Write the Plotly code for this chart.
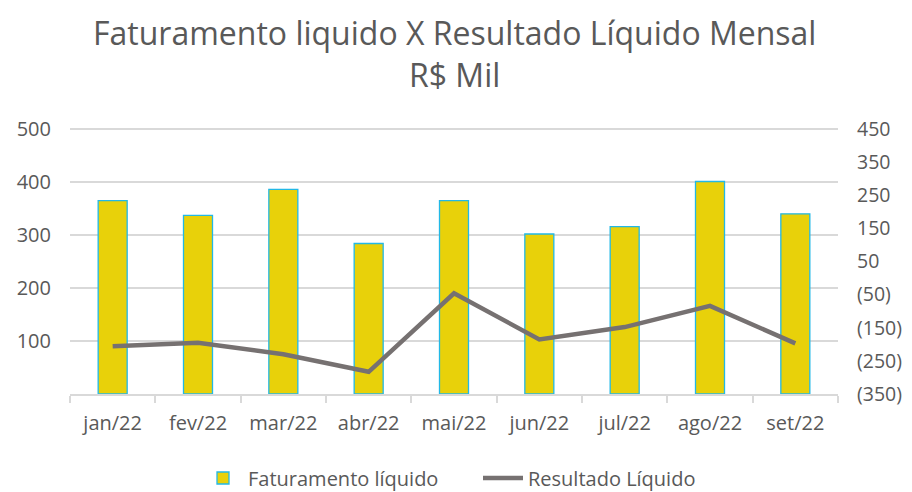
import plotly.graph_objects as go

meses = ["jan/22", "fev/22", "mar/22", "abr/22", "mai/22", "jun/22", "jul/22", "ago/22", "set/22"]
faturamento = [365, 337, 386, 284, 365, 302, 316, 401, 340]
resultado = [-206, -195, -230, -283, -46, -185, -148, -84, -197]

left_ticks = [100, 200, 300, 400, 500]
right_ticks = [-350, -250, -150, -50, 50, 150, 250, 350, 450]
right_labels = ["(350)", "(250)", "(150)", "(50)", "50", "150", "250", "350", "450"]

title_line1 = "Faturamento liquido X Resultado Líquido Mensal"
title_line2 = "R$ Mil"

grey = "#595959"
fnt = "Open Sans"

# layout geometry (figure pixels; page adds 8px body margin)
T, B, L, R = 120, 106, 62, 82
H = 492 - T - B
W = 912 - L - R

fig = go.Figure()
fig.add_trace(go.Bar(
    x=meses, y=faturamento, name="Faturamento líquido",
    marker=dict(color="#E8D10A", line=dict(color="#22B8E6", width=1.3)),
    width=0.34, yaxis="y",
))
fig.add_trace(go.Scatter(
    x=meses, y=resultado, name="Resultado Líquido", mode="lines",
    line=dict(color="#767171", width=4.5), yaxis="y2",
))

fig.update_layout(
    width=912, height=492,
    paper_bgcolor="white", plot_bgcolor="white",
    margin=dict(l=L, r=R, t=T, b=B, autoexpand=False),
    font=dict(family=fnt, color=grey, size=20),
    xaxis=dict(type="category", showgrid=False, showline=True, linecolor="#D9D9D9", linewidth=1.5,
               ticks="outside", tickson="boundaries", ticklen=7, tickcolor="#D9D9D9", tickwidth=1.5,
               tickfont=dict(size=20, color=grey), ticklabelstandoff=10, automargin=False),
    yaxis=dict(range=[0, 502], tickvals=left_ticks, showgrid=True, gridcolor="#D9D9D9", gridwidth=1.5,
               zeroline=False, showline=False, tickfont=dict(size=20, color=grey), ticklabelstandoff=18,
               automargin=False),
    yaxis2=dict(range=[-350, 453.2], tickvals=right_ticks, ticktext=right_labels, overlaying="y",
                side="right", showgrid=False, zeroline=False, showline=False,
                tickfont=dict(size=19.5, color=grey), ticklabelstandoff=18, automargin=False),
    legend=dict(orientation="h", x=(190 - L) / W, xanchor="left", y=-(470 - (T + H)) / H, yanchor="middle",
                font=dict(size=20, color=grey), itemwidth=40, entrywidth=225, traceorder="normal"),
    annotations=[
        dict(text=title_line1, xref="paper", yref="paper", x=0.5, y=1 + (T - 24) / H,
             yanchor="middle", xanchor="center", showarrow=False, font=dict(size=32, color=grey)),
        dict(text=title_line2, xref="paper", yref="paper", x=0.5, y=1 + (T - 66) / H,
             yanchor="middle", xanchor="center", showarrow=False, font=dict(size=32, color=grey)),
    ],
)

fig.write_html("out.html")
